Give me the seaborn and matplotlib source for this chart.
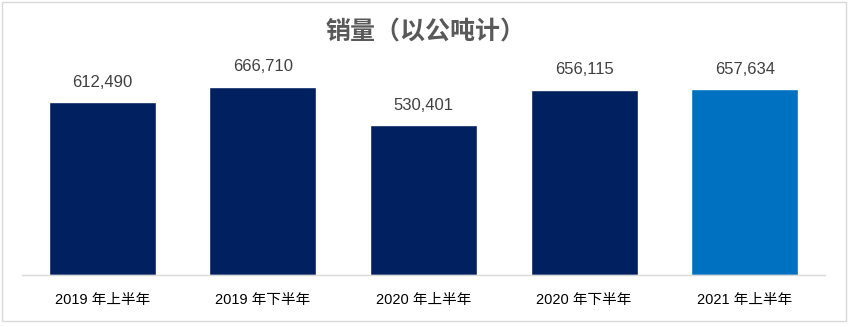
import matplotlib
matplotlib.use("Agg")
import matplotlib.pyplot as plt
import seaborn as sns
import pandas as pd
from matplotlib.patches import Rectangle

categories = ["2019 年上半年", "2019 年下半年", "2020 年上半年", "2020 年下半年", "2021 年上半年"]
values = [612490, 666710, 530401, 656115, 657634]
colors = ["#002060", "#002060", "#002060", "#002060", "#0070C0"]
title = "销量（以公吨计）"

sns.set_theme(style="white")
plt.rcParams['font.family'] = ['Liberation Sans', 'Noto Sans CJK SC', 'DejaVu Sans']

df = pd.DataFrame({"cat": categories, "val": values})

fig = plt.figure(figsize=(8.51, 3.27), dpi=100)
ax = fig.add_axes([22/851, 52/327, 803/851, 197.6/327])
sns.barplot(data=df, x="cat", y="val", hue="cat", palette=colors, legend=False,
            width=0.667, saturation=1, ax=ax)
ax.set_ylim(0, 700000)
ax.set_xlim(-0.5, len(categories) - 0.5)
for s in ["top", "right", "left"]:
    ax.spines[s].set_visible(False)
ax.spines["bottom"].set_color("#d9d9d9")
ax.spines["bottom"].set_linewidth(1)
ax.set_yticks([])
ax.set_xlabel("")
ax.set_ylabel("")
ax.tick_params(axis="x", length=0, pad=13, labelsize=10.5, labelcolor="#000000")
for lab in ax.get_xticklabels():
    lab.set_family(['Liberation Sans', 'Noto Sans CJK SC'])

for i, v in enumerate(values):
    ax.annotate(f"{v:,}", (i, v), xytext=(0, 9), textcoords="offset points",
                ha="center", va="bottom", fontsize=12, color="#404040",
                family=['Liberation Sans', 'DejaVu Sans'])

fig.text(0.5, 1 - 33/327, title, ha="center", va="center", fontsize=18,
         fontweight="bold", color="#595959", family=['Noto Sans CJK SC', 'DejaVu Sans'])

fig.patches.append(Rectangle((2/851, 6/327), 844/851, 319/327, transform=fig.transFigure,
                             fill=False, edgecolor="#d9d9d9", linewidth=1))

fig.savefig("out.png", dpi=100)
